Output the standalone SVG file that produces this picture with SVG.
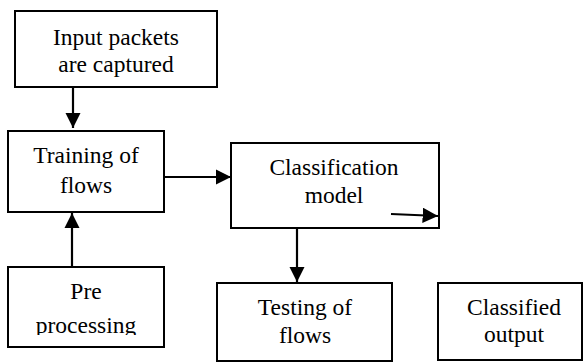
<svg xmlns="http://www.w3.org/2000/svg" width="585" height="363" viewBox="0 0 585 363">
<style>
.box{fill:#fff;stroke:#000;stroke-width:2}
.t{font-family:"Liberation Serif","Times New Roman",serif;font-size:23.5px;fill:#000;text-anchor:middle}
.c{stroke:#000;stroke-width:2.2;fill:none}
</style>
<defs>
<marker id="ah" viewBox="0 0 10 10" refX="10" refY="5" markerWidth="7" markerHeight="7" orient="auto" markerUnits="strokeWidth">
<path d="M0,0 L10,5 L0,10 Z" fill="#000"/>
</marker>
<clipPath id="clipPre"><rect x="0" y="0" width="585" height="335"/></clipPath>
</defs>
<rect width="585" height="363" fill="#fff"/>
<g id="input">
<rect class="box" x="15" y="11" width="202" height="76"/>
<text class="t" x="116" y="45">Input packets</text>
<text class="t" x="116" y="72">are captured</text>
</g>
<g id="training">
<rect class="box" x="8" y="131" width="156" height="81"/>
<text class="t" x="86" y="163">Training of</text>
<text class="t" x="86" y="193">flows</text>
</g>
<g id="classification">
<rect class="box" x="231" y="143" width="208" height="85"/>
<text class="t" x="334" y="175">Classification</text>
<text class="t" x="334" y="203">model</text>
</g>
<g id="testing">
<rect class="box" x="217" y="283" width="175" height="78"/>
<text class="t" x="305" y="315">Testing of</text>
<text class="t" x="305" y="343">flows</text>
</g>
<g id="preprocessing">
<rect class="box" x="8" y="267" width="156" height="80"/>
<text class="t" x="86" y="299">Pre</text>
<text class="t" x="86" y="333" clip-path="url(#clipPre)">processing</text>
</g>
<g id="classified">
<rect class="box" x="438" y="283" width="144" height="77"/>
<text class="t" x="514" y="315">Classified</text>
<text class="t" x="514" y="342">output</text>
</g>
<g id="connectors">
<line class="c" x1="73" y1="87" x2="73" y2="128" marker-end="url(#ah)"/>
<line class="c" x1="164" y1="177" x2="231" y2="177" marker-end="url(#ah)"/>
<line class="c" x1="72" y1="267" x2="72" y2="213" marker-end="url(#ah)"/>
<line class="c" x1="297" y1="228" x2="297" y2="282" marker-end="url(#ah)"/>
<line class="c" x1="391" y1="214" x2="438" y2="216" marker-end="url(#ah)"/>
</g>
</svg>
